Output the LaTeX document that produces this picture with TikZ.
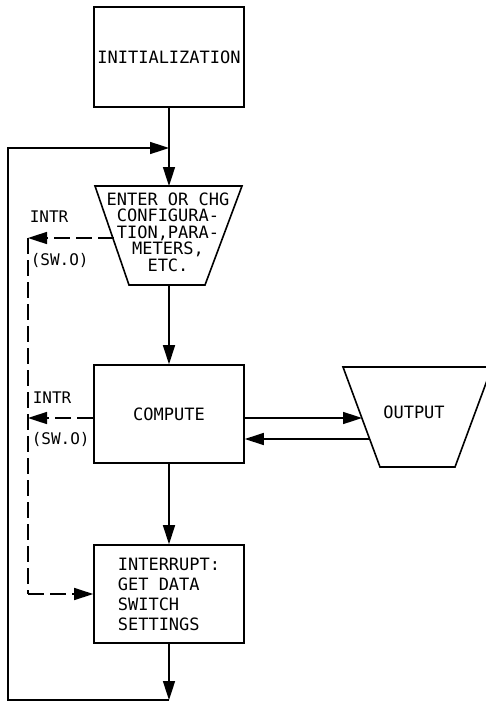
\documentclass[tikz,border=0pt]{standalone}
\usepackage{fontspec}
\setmainfont{DejaVu Sans Mono}
\usetikzlibrary{arrows.meta}
\begin{document}
\begin{tikzpicture}[x=1pt,y=-1pt,
  line width=1.6pt,
  tip/.style={-{Triangle[length=19pt,width=12pt]}},
  dsh/.style={dash pattern=on 16pt off 6pt},
  box/.style={draw, rectangle, line width=1.6pt, inner sep=2pt, font=\fontsize{17}{20}\selectfont},
  lbl/.style={font=\fontsize{16}{19}\selectfont, inner sep=0pt},
]
\useasboundingbox (0,0) rectangle (485,704);

% boxes
\node[box, minimum width=150pt, minimum height=100pt] (init) at (169,57) {INITIALIZATION};
\node[box, minimum width=150pt, minimum height=98pt] (comp) at (169,414) {COMPUTE};
\node[box, minimum width=150pt, minimum height=98pt, align=left] (intr) at (169,594)
  {INTERRUPT:\\GET DATA\\SWITCH\\SETTINGS};

% enter / change trapezoid
\coordinate (eTL) at (95,186);
\coordinate (eTR) at (242,186);
\coordinate (eBR) at (205,285);
\coordinate (eBL) at (129,285);
\draw[line join=miter] (eTL) -- (eTR) -- (eBR) -- (eBL) -- cycle;
\node[inner sep=0pt, align=center, font=\fontsize{17}{16.5}\selectfont] (enter) at (168,232)
  {ENTER OR CHG\\CONFIGURA-\\TION,PARA-\\METERS,\\ETC.};
\coordinate (eT) at (169,186);
\coordinate (eB) at (169,285);
\coordinate (eL) at (113.6,238);

% output trapezoid
\coordinate (oTL) at (343,367);
\coordinate (oTR) at (492,367);
\coordinate (oBR) at (455,467);
\coordinate (oBL) at (380,467);
\draw[line join=miter] (oTL) -- (oTR) -- (oBR) -- (oBL) -- cycle;
\node[inner sep=0pt, font=\fontsize{17}{20}\selectfont] (out) at (414,412) {OUTPUT};
\coordinate (oIn) at (362,418);
\coordinate (oOut) at (369.6,439);

% solid connectors
\draw[tip] (init.south) -- (eT);
\draw[tip] (eB) -- (comp.north);
\draw[tip] (comp.south) -- (intr.north);
\coordinate (bot) at (169,700);
\coordinate (bl) at (8,700);
\coordinate (tl) at (8,148);
\coordinate (jn) at (169,148);
\draw[tip] (intr.south) -- (bot);
\draw[tip, line join=miter] (bot) -- (bl) -- (tl) -- (jn);
\draw[tip] (comp.east |- oIn) -- (oIn);
\draw[tip] (oOut) -- (comp.east |- oOut);

% dashed interrupt connectors
\coordinate (d1) at (28,238);
\coordinate (d2) at (28,418);
\coordinate (d3) at (28,594);
\draw[tip, dsh] (eL) -- (d1);
\draw[dsh, line join=miter] (d1) -- (d3);
\draw[tip, dsh] (d3) -- (intr.west);
\draw[tip, dsh] (comp.west |- d2) -- (d2);

% labels
\node[lbl, anchor=west] (intr1) at (29,217) {INTR};
\node[lbl, anchor=west] (sw1) at (30,260) {(SW.O)};
\node[lbl, anchor=west] (intr2) at (32,398) {INTR};
\node[lbl, anchor=west] (sw2) at (31,439) {(SW.O)};
\end{tikzpicture}
\end{document}
